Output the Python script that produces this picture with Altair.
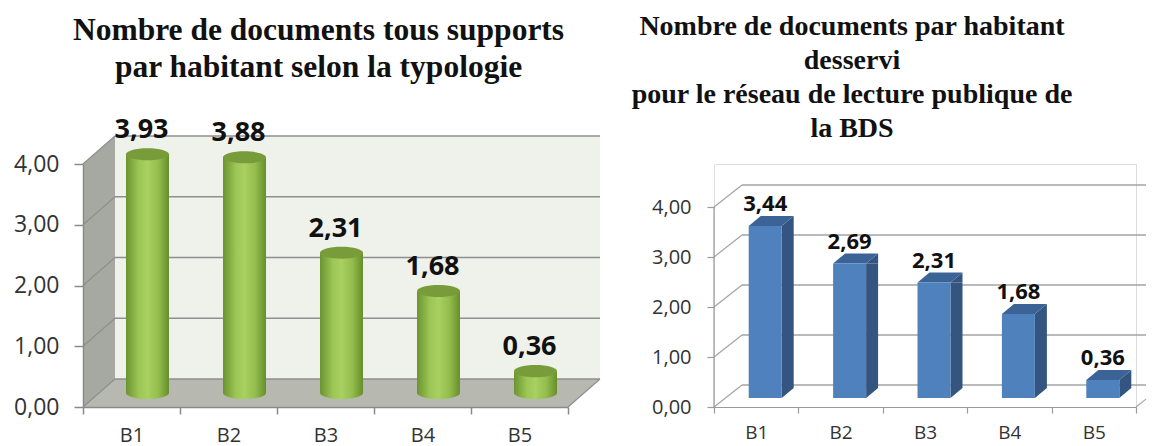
import altair as alt
import pandas as pd

# ---------------- data ----------------
cats = ["B1", "B2", "B3", "B4", "B5"]
left_values = [3.93, 3.88, 2.31, 1.68, 0.36]
right_values = [3.44, 2.69, 2.31, 1.68, 0.36]
y_ticks = [0, 1, 2, 3, 4]
left_title = ["Nombre de documents tous supports", "par habitant selon la typologie"]
right_title = ["Nombre de documents par habitant", "desservi",
               "pour le réseau de lecture publique de", "la BDS"]

FR = "replace(format(datum.value, '.2f'), '.', ',')"
FR_VAL = "replace(format(datum.val, '.2f'), '.', ',')"

ELLIPSE = "M-1,0A1,0.28,0,1,1,1,0A1,0.28,0,1,1,-1,0Z"


def frame_layers(W, dx, dy, side_fill, back_fill, floor_fill, grid_color, yscale, yaxis,
                 axis_line=None, ext=None):
    ext = dx if ext is None else ext
    tdf = pd.DataFrame({"t": y_ticks})
    base = alt.Chart(tdf)
    agg = base.transform_aggregate(lo="min(t)", hi="max(t)")
    Y = lambda f: alt.Y(f, scale=yscale, axis=yaxis)
    layers = []
    if back_fill:
        layers.append(agg.mark_rect(fill=back_fill, yOffset=-dy, y2Offset=-dy).encode(
            x=alt.value(dx), x2=alt.value(W + ext), y=Y("lo:Q"), y2="hi:Q"))
    if side_fill:
        layers.append(agg.mark_rect(fill=side_fill, y2Offset=-dy).encode(
            x=alt.value(0), x2=alt.value(dx), y=Y("lo:Q"), y2="hi:Q"))
        layers.append(agg.mark_point(shape=f"M0,0L0,-{dy}L{dx},-{dy}Z", size=4, filled=True,
                                     fill="white", strokeWidth=0, opacity=1).encode(
            x=alt.value(0), y=Y("hi:Q")))
    if floor_fill:
        layers.append(agg.mark_rect(fill=floor_fill, y2Offset=-dy).encode(
            x=alt.value(dx), x2=alt.value(W + ext), y=Y("lo:Q"), y2="lo:Q"))
        layers.append(agg.mark_point(shape=f"M0,0L{dx},0L{dx},-{dy}Z", size=4, filled=True,
                                     fill=floor_fill, strokeWidth=0, opacity=1).encode(
            x=alt.value(0), y=Y("lo:Q")))
        layers.append(agg.mark_point(shape=f"M0,0L{ext},0L{ext},-{dy * ext / dx}Z", size=4,
                                     filled=True, fill="white", strokeWidth=0, opacity=1).encode(
            x=alt.value(W), y=Y("lo:Q")))
    # back-wall grid lines
    layers.append(base.mark_rule(color=grid_color, strokeWidth=1.5, yOffset=-dy).encode(
        x=alt.value(dx), x2=alt.value(W + ext), y=Y("t:Q")))
    # side-wall diagonals
    layers.append(base.mark_rule(color=grid_color, strokeWidth=1.2, y2Offset=-dy).encode(
        x=alt.value(0), x2=alt.value(dx), y=Y("t:Q"), y2="t:Q"))
    # floor front-right diagonal
    layers.append(agg.mark_rule(color=grid_color, strokeWidth=1.2, y2Offset=-dy * ext / dx).encode(
        x=alt.value(W), x2=alt.value(W + ext), y=Y("lo:Q"), y2="lo:Q"))
    if axis_line:
        layers.append(agg.mark_rule(color=axis_line, strokeWidth=1.2).encode(
            x=alt.value(0), y=Y("lo:Q"), y2="hi:Q"))
    return layers


xs = alt.Scale(paddingInner=0, paddingOuter=0)

# ---------------- left chart ----------------
W1, H1, DX1, DY1 = 485, 243, 32, 28
ys1 = alt.Scale(domain=[0, 4], nice=False, zero=True)
ya1 = alt.Axis(values=y_ticks, labelExpr=FR, title=None, grid=False, tickSize=9,
               labelPadding=15, labelFontSize=23, labelFont="Open Sans", labelColor="#333333",
               domainColor="#8a8a8a", tickColor="#8a8a8a", domainWidth=1.5, tickWidth=1.5, zindex=1)
xa1 = alt.Axis(title=None, labelAngle=0, tickBand="extent", tickSize=7, labelPadding=11,
               labelFontSize=20, labelFont="Open Sans", labelColor="#333333",
               domainColor="#8a8a8a", tickColor="#8a8a8a", domainWidth=1.5, tickWidth=1.5, zindex=1)

green_grad = alt.LinearGradient(
    gradient="linear", x1=0, x2=1, y1=0, y2=0,
    stops=[alt.GradientStop(color="#6b9430", offset=0),
           alt.GradientStop(color="#9cc655", offset=0.3),
           alt.GradientStop(color="#a9d062", offset=0.5),
           alt.GradientStop(color="#93bd4c", offset=0.75),
           alt.GradientStop(color="#668f2c", offset=1)])

ldf = pd.DataFrame({"cat": cats, "val": left_values})
lbase = alt.Chart(ldf).transform_calculate(zero="0", lab=FR_VAL)
CW, COX, COY = 43, 16, 14
lx = alt.X("cat:N", sort=cats, scale=xs, axis=xa1)
LY = lambda f: alt.Y(f, scale=ys1, axis=ya1)

left_layers = frame_layers(W1, DX1, DY1, "#a6a9a1", "#eef2ea", "#b7b9b1", "#8f8f8f", ys1, ya1)
left_layers += [
    lbase.mark_point(shape=ELLIPSE, size=CW * CW, filled=True, fill=green_grad, strokeWidth=0,
                     opacity=1, xOffset=COX, yOffset=-COY).encode(x=lx, y=LY("zero:Q")),
    lbase.mark_bar(width=CW, color=green_grad, xOffset=COX, yOffset=-COY, y2Offset=-COY).encode(
        x=lx, y=LY("val:Q"), y2="zero:Q"),
    lbase.mark_point(shape=ELLIPSE, size=CW * CW, filled=True, fill="#789c3a", strokeWidth=0,
                     opacity=1, xOffset=COX, yOffset=-COY).encode(x=lx, y=LY("val:Q")),
    lbase.mark_text(font="Open Sans", fontSize=27, fontWeight="bold", color="#111111",
                    baseline="middle", xOffset=10, yOffset=-38).encode(
        x=lx, y=LY("val:Q"), text="lab:N"),
]
left = alt.layer(*left_layers).properties(
    width=W1, height=H1,
    title=alt.TitleParams(text=left_title, font="Liberation Serif", fontSize=31.5,
                          fontWeight="bold", lineHeight=37, anchor="middle", frame="group",
                          dx=-7, offset=33, color="#111111"))

# ---------------- right chart ----------------
W2, H2, DX2, DY2 = 422, 243, 28, 22
ys2 = alt.Scale(domain=[0, 4.86], nice=False, zero=True)
ya2 = alt.Axis(values=y_ticks, labelExpr=FR, title=None, grid=False, domain=False, tickSize=7,
               labelPadding=16, labelFontSize=20, labelFont="Open Sans", labelColor="#333333",
               tickColor="#9a9a9a", tickWidth=1.2, zindex=1)
xa2 = alt.Axis(title=None, labelAngle=0, tickBand="extent", tickSize=6, labelPadding=10,
               labelFontSize=19, labelFont="Open Sans", labelColor="#333333",
               domainColor="#9a9a9a", tickColor="#9a9a9a", domainWidth=1.2, tickWidth=1.2, zindex=1)

rdf = pd.DataFrame({"cat": cats, "val": right_values})
rbase = alt.Chart(rdf).transform_calculate(zero="0", lab=FR_VAL)
BW, BOX, BOY, DEPX, DEPY = 33, 9, 9, 12, 10
rx = alt.X("cat:N", sort=cats, scale=xs, axis=xa2)
RY = lambda f: alt.Y(f, scale=ys2, axis=ya2)
FRONT, SIDE, TOP = "#4f81bd", "#34557f", "#3c6396"
right_layers = frame_layers(W2, DX2, DY2, None, None, None, "#a3a3a3", ys2, ya2,
                            axis_line="#9a9a9a", ext=10)
right_layers += [
    rbase.mark_bar(width=DEPX, color=SIDE, xOffset=BOX + BW / 2 + DEPX / 2,
                   yOffset=-BOY, y2Offset=-BOY - DEPY).encode(
        x=rx, y=RY("val:Q"), y2="zero:Q"),
    rbase.mark_point(shape=f"M0,0L{DEPX},-{DEPY}L{DEPX},0Z", size=4, filled=True, fill=SIDE,
                     strokeWidth=0, opacity=1, xOffset=BOX + BW / 2, yOffset=-BOY).encode(
        x=rx, y=RY("val:Q")),
    rbase.mark_point(shape=f"M0,0L0,-{DEPY}L{DEPX},-{DEPY}Z", size=4, filled=True, fill=SIDE,
                     strokeWidth=0, opacity=1, xOffset=BOX + BW / 2, yOffset=-BOY).encode(
        x=rx, y=RY("zero:Q")),
    rbase.mark_point(shape=f"M0,0L{BW},0L{BW + DEPX},-{DEPY}L{DEPX},-{DEPY}Z", size=4,
                     filled=True, fill=TOP, strokeWidth=0, opacity=1,
                     xOffset=BOX - BW / 2, yOffset=-BOY).encode(x=rx, y=RY("val:Q")),
    rbase.mark_bar(width=BW, color=FRONT, xOffset=BOX, yOffset=-BOY, y2Offset=-BOY).encode(
        x=rx, y=RY("val:Q"), y2="zero:Q"),
    rbase.mark_text(font="Open Sans", fontSize=22, fontWeight="bold", color="#111111",
                    baseline="middle", xOffset=9, yOffset=-31).encode(
        x=rx, y=RY("val:Q"), text="lab:N"),
]
right = alt.layer(*right_layers).properties(
    width=W2, height=H2,
    title=alt.TitleParams(text=right_title, font="Liberation Serif", fontSize=28,
                          fontWeight="bold", lineHeight=34, anchor="middle", frame="group",
                          dx=-73, offset=21, color="#111111"))

chart = alt.hconcat(left, right, spacing=146, bounds="flush").configure_view(
    stroke=None).configure(background="white").properties(
    padding={"left": 5, "top": 4, "right": 0, "bottom": 0})
chart.save("out.html", embed_options={"renderer": "svg", "actions": False})
